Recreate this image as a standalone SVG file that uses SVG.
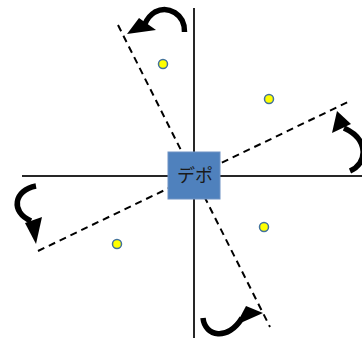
<svg xmlns="http://www.w3.org/2000/svg" width="362" height="338" viewBox="0 0 362 338">
<style>
.axis{stroke:#262626;stroke-width:2;fill:none}
.dash{stroke:#000;stroke-width:2;stroke-dasharray:7,5;fill:none}
.cust{fill:#FFFF00;stroke:#41719C;stroke-width:1.5}
.arc{stroke:#000;stroke-width:5.5;fill:none}
.head{fill:#000}
.lbl{font-family:"Noto Sans CJK JP","Noto Sans",sans-serif;font-size:18px;fill:#1a1a1a}
</style>
<rect width="362" height="338" fill="#fff"/>
<g id="connectors">
<line class="axis" x1="194" y1="8" x2="194" y2="338"/>
<line class="axis" x1="22" y1="176" x2="362" y2="176"/>
<line class="dash" x1="118" y1="25" x2="270" y2="327"/>
<line class="dash" x1="38" y1="251" x2="350" y2="101"/>
</g>
<g id="depot">
<rect x="168" y="152" width="52" height="47" fill="#4F81BD" stroke="#6E92C4" stroke-width="1"/>
<text class="lbl" x="195" y="182" text-anchor="middle">デポ</text>
</g>
<g id="customers">
<circle class="cust" cx="163" cy="64" r="4.5"/>
<circle class="cust" cx="269" cy="99" r="4.5"/>
<circle class="cust" cx="264" cy="227" r="4.5"/>
<circle class="cust" cx="117" cy="244" r="4.5"/>
</g>
<g id="arrow-top">
<path class="arc" d="M184.5,32 C185,14 168,5 155,12 C150,15 147,19 145,24"/>
<polygon class="head" points="127,34 139,18 156,30"/>
</g>
<g id="arrow-right">
<path class="arc" d="M350,171 C367,164 370,140 344,128"/>
<polygon class="head" points="337,111 332,133 351,124"/>
</g>
<g id="arrow-left">
<path class="arc" d="M36,186 C14,190 10,212 31,221"/>
<polygon class="head" points="36,244 25,223 42,217"/>
</g>
<g id="arrow-bottom">
<path class="arc" d="M203,318 C205,337 228,341 242,318"/>
<polygon class="head" points="263,313 236,325 246,306"/>
</g>
</svg>
